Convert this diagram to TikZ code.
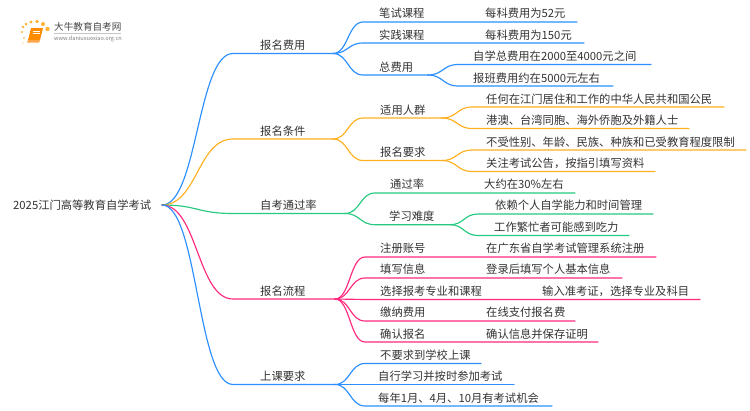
\documentclass[tikz,border=0pt]{standalone}
\usepackage{fontspec}
\setmainfont{Noto Sans CJK SC}
\usetikzlibrary{calc}
\definecolor{cblue}{HTML}{2B8FFF}
\definecolor{corange}{HTML}{FFB020}
\definecolor{cgreen}{HTML}{25C97F}
\definecolor{cpink}{HTML}{FF2A7F}
\definecolor{ctext}{HTML}{333333}
\tikzset{
  lbl/.style={anchor=west,inner sep=0pt,text=ctext,font=\fontsize{11.3}{13}\selectfont,text height=10pt,text depth=1.5pt},
  conn/.style={line width=1.15pt,line cap=round,line join=round},
}
\newcommand{\sbranch}[5]{%
  \coordinate (#3s) at (#4);
  \coordinate (#3e) at (#5);
  \draw[conn,#1] let \p1=(#2),\p2=(#3s),\n1={0.5*(\x1+\x2)} in
    (#2) .. controls (\n1,\y1) and (\n1,\y2) .. (#3s) -- (#3e);
}
\begin{document}
\begin{tikzpicture}[x=1pt,y=-1pt]
\useasboundingbox (0,0) rectangle (750,410);
\fill[white] (0,0) rectangle (750,410);
% logo
\foreach \px/\py/\r in {22/32/1.1,23/27/1.3,26/24/1.5,31/22/1.7,37/21.5/1.9,43/24/2,47.5/29/2.2,24/38/0.9,23/43/0.7}
  \fill[orange!75!yellow,opacity=.8] (\px,\py) circle (\r);
\fill[orange!90!yellow] (31,28) -- (43,28) -- (40,40) -- (28,40) -- cycle;
\fill[orange!70!white] (28,40) -- (40,40) -- (39,42.5) -- (27,42.5) -- cycle;
\draw[white,line width=.5pt] (33,31) -- (40,31) (32.5,33) -- (39.5,33);
\node[inner sep=0pt,anchor=west,text=ctext!90!white,font=\fontsize{9.6}{11}\selectfont] (logot) at (54,27) {大牛教育自考网};
\draw[gray!45,line width=.5pt] (54,33.3) -- (121,33.3);
\node[inner sep=0pt,anchor=west,text=gray,font=\fontsize{5.6}{7}\selectfont] (logou) at (54,38.5) {www.daniuxuexiao.org.cn};
% root
\node[lbl] (root) at (13,205.5) {2025江门高等教育自学考试};
\coordinate (R) at (162,205);
% level 1
\sbranch{cblue}{R}{a}{233,53.5}{333,53.5}
\sbranch{corange}{R}{b}{233,139}{333,139}
\sbranch{cgreen}{R}{c}{233,213.5}{345,213.5}
\sbranch{cpink}{R}{d}{233,299}{335,299}
\sbranch{cblue}{R}{e}{233,384.5}{335,384.5}
\node[lbl] (na) at (260,45) {报名费用};
\node[lbl] (nb) at (260,131) {报名条件};
\node[lbl] (nc) at (260,205) {自考通过率};
\node[lbl] (nd) at (260,291) {报名流程};
\node[lbl] (ne) at (260,376) {上课要求};
% fee
\sbranch{cblue}{ae}{a1}{363,22}{577,22}
\sbranch{cblue}{ae}{a2}{363,43}{584,43}
\sbranch{cblue}{ae}{a3}{363,75}{428,75}
\sbranch{cblue}{a3e}{a31}{458,64.5}{651,64.5}
\sbranch{cblue}{a3e}{a32}{458,86}{613,86}
\node[lbl] (na1) at (379,13.5) {笔试课程};
\node[lbl] (na1x) at (485,13.5) {每科费用为52元};
\node[lbl] (na2) at (379,35) {实践课程};
\node[lbl] (na2x) at (485,35) {每科费用为150元};
\node[lbl] (na3) at (379,67) {总费用};
\node[lbl] (na31) at (473,56.5) {自学总费用在2000至4000元之间};
\node[lbl] (na32) at (473,78) {报班费用约在5000元左右};
% conditions
\sbranch{corange}{be}{b1}{363,118}{442,118}
\sbranch{corange}{be}{b2}{363,160.5}{442,160.5}
\sbranch{corange}{b1e}{b11}{472,107}{724,107}
\sbranch{corange}{b1e}{b12}{472,128.5}{689,128.5}
\sbranch{corange}{b2e}{b21}{472,150}{746,150}
\sbranch{corange}{b2e}{b22}{472,171.5}{655,171.5}
\node[lbl] (nb1) at (380,110) {适用人群};
\node[lbl] (nb11) at (486,99) {任何在江门居住和工作的中华人民共和国公民};
\node[lbl] (nb12) at (486,120.5) {港澳、台湾同胞、海外侨胞及外籍人士};
\node[lbl] (nb2) at (380,152.5) {报名要求};
\node[lbl] (nb21) at (486,142) {不受性别、年龄、民族、种族和已受教育程度限制};
\node[lbl] (nb22) at (486,163.5) {关注考试公告，按指引填写资料};
% pass rate
\sbranch{cgreen}{ce}{c1}{375,193}{575,193}
\sbranch{cgreen}{ce}{c2}{375,224.7}{450,224.7}
\sbranch{cgreen}{c2e}{c21}{478,214}{653,214}
\sbranch{cgreen}{c2e}{c22}{478,235.5}{629,235.5}
\node[lbl] (nc1) at (390,184.5) {通过率};
\node[lbl] (nc1x) at (484,184.5) {大约在30\%左右};
\node[lbl] (nc2) at (389,216.5) {学习难度};
\node[lbl] (nc21) at (495,205.5) {依赖个人自学能力和时间管理};
\node[lbl] (nc22) at (494,227) {工作繁忙者可能感到吃力};
% process
\sbranch{cpink}{de}{d1}{365,257}{656,257}
\sbranch{cpink}{de}{d2}{365,278}{622,278}
\sbranch{cpink}{de}{d3}{365,299.5}{700,299.5}
\sbranch{cpink}{de}{d4}{365,321}{575,321}
\sbranch{cpink}{de}{d5}{365,342}{598,342}
\node[lbl] (nd1) at (380,248) {注册账号};
\node[lbl] (nd1x) at (486,248) {在广东省自学考试管理系统注册};
\node[lbl] (nd2) at (380,269.5) {填写信息};
\node[lbl] (nd2x) at (486,269.5) {登录后填写个人基本信息};
\node[lbl] (nd3) at (380,291) {选择报考专业和课程};
\node[lbl] (nd3x) at (542,291) {输入准考证，选择专业及科目};
\node[lbl] (nd4) at (380,312.5) {缴纳费用};
\node[lbl] (nd4x) at (486,312.5) {在线支付报名费};
\node[lbl] (nd5) at (380,334) {确认报名};
\node[lbl] (nd5x) at (486,334) {确认信息并保存证明};
% classes
\sbranch{cblue}{ee}{e1}{365,363.5}{481,363.5}
\sbranch{cblue}{ee}{e2}{365,384.5}{514,384.5}
\sbranch{cblue}{ee}{e3}{365,406}{552,406}
\node[lbl] (ne1) at (380,355) {不要求到学校上课};
\node[lbl] (ne2) at (378,376.5) {自行学习并按时参加考试};
\node[lbl] (ne3) at (378,398) {每年1月、4月、10月有考试机会};
\end{tikzpicture}
\end{document}
